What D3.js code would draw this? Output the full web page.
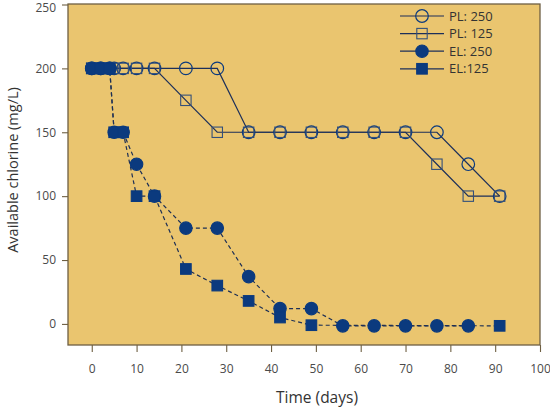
<!DOCTYPE html>
<html><head><meta charset="utf-8">
<script src="https://cdn.jsdelivr.net/npm/d3@7"></script>
<style>body{margin:0;background:#fff;}svg{display:block;font-family:"Open Sans",sans-serif;}</style>
</head><body>
<svg id="c" width="550" height="409"></svg>
<script>
// ---- data ----
const xTicks = [0,10,20,30,40,50,60,70,80,90,100];
const yTicks = [0,50,100,150,200,250];
const seriesNames = ["PL: 250","PL: 125","EL: 250","EL:125"];
const pl250Days = [0,2,4,5,7,10,14,21,28,35,42,49,56,63,70,77,84,91];
const pl250Vals = [200,200,200,200,200,200,200,200,200,150,150,150,150,150,150,150,125,100];
const pl125Days = [0,2,4,5,7,10,14,21,28,35,42,49,56,63,70,77,84,91];
const pl125Vals = [200,200,200,200,200,200,200,175,150,150,150,150,150,150,150,125,100,100];
const el250Days = [0,2,4,5,7,10,14,21,28,35,42,49,56,63,70,77,84];
const el250Vals = [200,200,200,150,150,125,100,75,75,37,12,12,-1.5,-1.5,-1.5,-1.5,-1.5];
const el125Days = [0,2,4,5,7,10,14,21,28,35,42,49,91];
const el125Vals = [200,200,200,150,150,100,100,43,30,18,5,-1,-1.5];

const navy = "#0b3a7e", lineCol = "#1c2f5a", frame = "#6e5f42", bg = "#EAC56F";

const svg = d3.select("#c");
const L = 68, R = 540, T = 4, B = 345;
const x = d3.scaleLinear().domain([-5.3,100]).range([L,R]);
const y = d3.scaleLinear().domain([-16.5,250]).range([B,T+0.5]);

svg.append("rect").attr("x",L).attr("y",T).attr("width",R-L).attr("height",B-T)
  .attr("fill",bg).attr("stroke",frame).attr("stroke-width",1.3);

// axes
const xa = svg.append("g").attr("transform",`translate(0,${B})`)
  .call(d3.axisBottom(x).tickValues(xTicks).tickSize(7).tickPadding(12));
const ya = svg.append("g").attr("transform",`translate(${L},0)`)
  .call(d3.axisLeft(y).tickValues(yTicks).tickSize(6).tickPadding(6));
[xa,ya].forEach(g=>{
  g.select(".domain").remove();
  g.selectAll(".tick line").attr("stroke",frame).attr("stroke-width",1.1);
  g.selectAll(".tick text").attr("fill","#4a4a4a").style("font-size","12px").style("font-family","'Open Sans',sans-serif");
});
// keep the top label inside the picture
ya.selectAll(".tick text").filter(d=>d===250).attr("dy","0.62em");

svg.append("text").attr("x",317).attr("y",403).attr("text-anchor","middle")
  .attr("fill","#333").style("font-size","15.5px").text("Time (days)");
svg.append("text").attr("transform","translate(18,170) rotate(-90)").attr("text-anchor","middle")
  .attr("fill","#333").style("font-size","14.5px").text("Available chlorine (mg/L)");

const line = d3.line().x(d=>x(d[0])).y(d=>y(d[1]));
const zip = (a,b)=>a.map((d,i)=>[d,b[i]]);
const series = [
  {d:zip(pl250Days,pl250Vals), shape:"circle", fill:"none", dash:null},
  {d:zip(pl125Days,pl125Vals), shape:"square", fill:"none", dash:null},
  {d:zip(el250Days,el250Vals), shape:"circle", fill:navy, dash:"4,3"},
  {d:zip(el125Days,el125Vals), shape:"square", fill:navy, dash:"4,3"}
];
const g = svg.append("g");
series.forEach(s=>{
  g.append("path").attr("d",line(s.d)).attr("fill","none")
    .attr("stroke",s.fill==="none"?lineCol:"#1d2f55").attr("stroke-width",1.2)
    .attr("stroke-dasharray",s.dash);
});
function marker(sel, s, cx, cy){
  if(s.shape==="circle"){
    sel.append("circle").attr("cx",cx).attr("cy",cy).attr("r",s.fill==="none"?6.3:6.2)
      .attr("fill",s.fill).attr("stroke",navy).attr("stroke-width",1.2);
  } else {
    const h = s.fill==="none"?5.2:5.3;
    sel.append("rect").attr("x",cx-h).attr("y",cy-h).attr("width",2*h).attr("height",2*h)
      .attr("fill",s.fill).attr("stroke",s.fill==="none"?"#34507a":navy).attr("stroke-width",1.1);
  }
}
series.forEach(s=>{
  const gg = g.append("g");
  s.d.forEach(p=>marker(gg,s,x(p[0]),y(p[1])));
});

// legend
const lg = svg.append("g");
seriesNames.forEach((n,i)=>{
  const ly = 16 + i*17.6;
  lg.append("line").attr("x1",400).attr("x2",444).attr("y1",ly).attr("y2",ly)
    .attr("stroke",lineCol).attr("stroke-width",1.2);
  marker(lg, series[i], 422, ly);
  lg.append("text").attr("x",449).attr("y",ly+4.5).attr("fill","#333")
    .style("font-size","13px").text(n);
});
</script>
</body></html>
